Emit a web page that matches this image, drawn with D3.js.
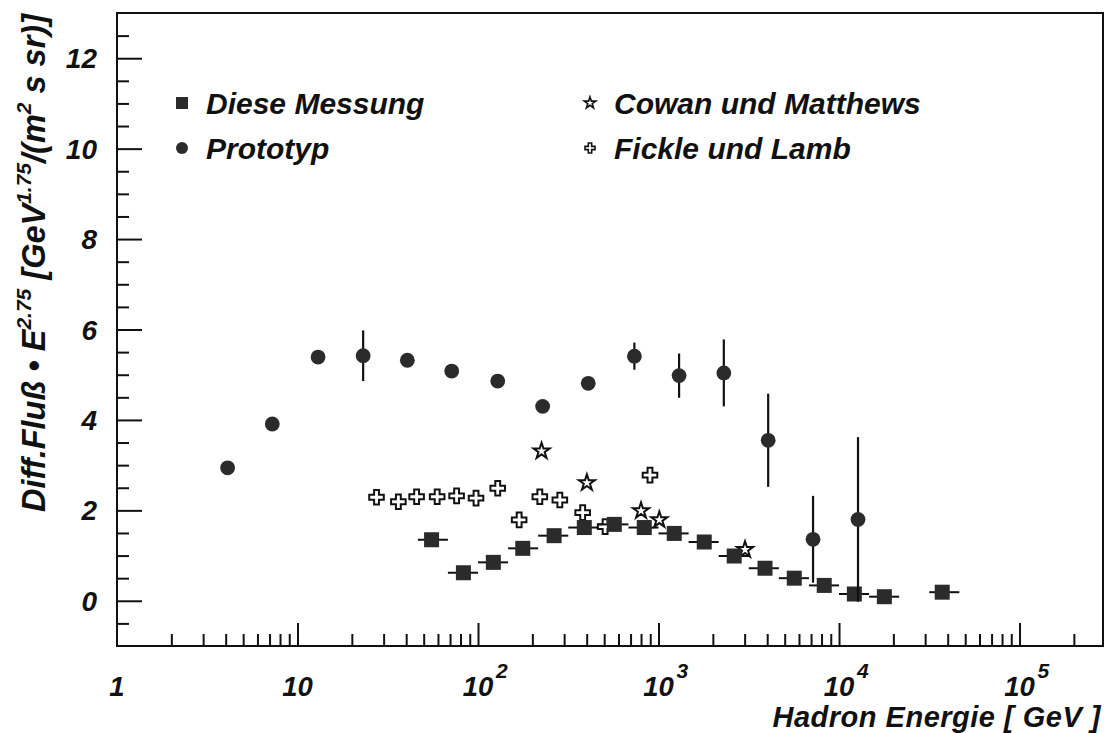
<!DOCTYPE html>
<html>
<head>
<meta charset="utf-8">
<script src="https://cdn.jsdelivr.net/npm/d3@7"></script>
<style>
  html, body { margin: 0; padding: 0; background: #fff; }
  svg text { font-family: "Liberation Sans", Arial, Helvetica, sans-serif; font-weight: bold; font-style: italic; fill: #111; }
</style>
</head>
<body>
<svg id="chart" width="1108" height="733"></svg>
<script>
// Diese Messung: bin centres, bin edges [GeV] and flux values
const measE  = [55.3, 83, 121.6, 177, 264, 388, 569, 834, 1222, 1792, 2626, 3890, 5650, 8280, 12160, 17830, 37300];
const measLo = [46.4, 68.1, 100, 146.8, 215.4, 316.2, 464.2, 681.3, 1000, 1468, 2154, 3162, 4642, 6813, 10000, 14678, 31623];
const measHi = [68.1, 100, 146.8, 215.4, 316.2, 464.2, 681.3, 1000, 1468, 2154, 3162, 4642, 6813, 10000, 14678, 21544, 46416];
const measV  = [1.35, 0.62, 0.85, 1.16, 1.44, 1.62, 1.69, 1.62, 1.49, 1.30, 0.99, 0.72, 0.50, 0.34, 0.15, 0.09, 0.19];

// Prototyp
const protoE   = [4.1, 7.25, 13.0, 23.1, 40.6, 71.5, 128.6, 228, 408, 735, 1300, 2300, 4050, 7180, 12740];
const protoV   = [2.94, 3.91, 5.39, 5.42, 5.32, 5.08, 4.86, 4.30, 4.81, 5.41, 4.98, 5.04, 3.55, 1.36, 1.80];
const protoErr = [0, 0, 0, 0.56, 0, 0, 0, 0, 0, 0.30, 0.49, 0.74, 1.03, 0.96, 1.82];

// Cowan und Matthews
const cowanE = [225, 401, 800, 1010, 3015];
const cowanV = [3.31, 2.61, 1.99, 1.79, 1.13];

// Fickle und Lamb
const fickleE = [27.4, 36.2, 45.7, 59.4, 76.1, 97.5, 128.6, 169, 220, 284, 380, 506, 897];
const fickleV = [2.29, 2.19, 2.30, 2.30, 2.32, 2.27, 2.49, 1.79, 2.30, 2.23, 1.95, 1.64, 2.78];

// Axis ticks and labels
const xMajor = [1, 10, 100, 1000, 10000, 100000];
const xLabelExp = [0, 1, 2, 3, 4, 5];
const yMajor = [0, 2, 4, 6, 8, 10, 12];
const yMinor = [-0.5, 0.5, 1, 1.5, 2.5, 3, 3.5, 4.5, 5, 5.5, 6.5, 7, 7.5, 8.5, 9, 9.5, 10.5, 11, 11.5, 12.5];

const legendLeft  = ["Diese Messung", "Prototyp"];
const legendRight = ["Cowan und Matthews", "Fickle und Lamb"];

const svg = d3.select("#chart");
const L = 117, R = 1103, T = 13, B = 646;

const x = d3.scaleLog().domain([1, 2.9e5]).range([L, R]);
const y = d3.scaleLinear().domain([-1, 13]).range([B, T]);

const ink = "#111";
const markFill = "#2b2b2b";

// minor ticks on the log axis: 2..9 in each decade inside the domain
const xMinor = [];
for (let d = 1; d <= 1e5; d *= 10) {
  for (let k = 2; k <= 9; k++) {
    const v = k * d;
    if (v < x.domain()[1]) xMinor.push(v);
  }
}

function styleAxis(g) {
  g.select(".domain").remove();
  g.selectAll(".tick line").attr("stroke", ink).attr("stroke-width", 2);
}

// x ticks pointing up from the bottom edge
svg.append("g").attr("transform", `translate(0,${B})`)
  .call(d3.axisTop(x).tickValues(xMajor.filter(v => v > 1)).tickSize(23).tickFormat(""))
  .call(styleAxis);
svg.append("g").attr("transform", `translate(0,${B})`)
  .call(d3.axisTop(x).tickValues(xMinor).tickSize(12).tickFormat(""))
  .call(styleAxis);

// y ticks pointing right from the left edge
svg.append("g").attr("transform", `translate(${L},0)`)
  .call(d3.axisRight(y).tickValues(yMajor).tickSize(25).tickFormat(""))
  .call(styleAxis);
svg.append("g").attr("transform", `translate(${L},0)`)
  .call(d3.axisRight(y).tickValues(yMinor).tickSize(12).tickFormat(""))
  .call(styleAxis);

// frame
svg.append("rect")
  .attr("x", L).attr("y", T).attr("width", R - L).attr("height", B - T)
  .attr("fill", "none").attr("stroke", ink).attr("stroke-width", 2);

// y tick labels
svg.append("g").selectAll("text").data(yMajor).join("text")
  .attr("x", 97).attr("y", d => y(d) + 10)
  .attr("text-anchor", "end")
  .style("font-size", "28px")
  .text(d => d);

// x tick labels (1, 10, 10^n)
const xl = svg.append("g").selectAll("g").data(xMajor).join("g")
  .attr("transform", (d, i) => `translate(${x(d)},696)`);
xl.each(function (d, i) {
  const g = d3.select(this);
  const e = xLabelExp[i];
  if (e <= 1) {
    g.append("text").attr("text-anchor", "middle").style("font-size", "27.5px").text(d);
  } else {
    g.append("text").attr("text-anchor", "middle").style("font-size", "27.5px").text("10");
    g.append("text").attr("x", 18).attr("y", -18).style("font-size", "21px").text(e);
  }
});

// axis titles
svg.append("text")
  .attr("x", 1101).attr("y", 726.5)
  .attr("text-anchor", "end")
  .style("font-size", "29px")
  .style("letter-spacing", "0.5px")
  .text("Hadron Energie [ GeV ]");

const yt = svg.append("text")
  .attr("transform", "translate(45,14) rotate(-90)")
  .attr("text-anchor", "end")
  .style("font-size", "32.5px");
yt.append("tspan").text("Diff.Fluß • E");
yt.append("tspan").attr("dy", -14).style("font-size", "21px").text("2.75");
yt.append("tspan").attr("dy", 14).text(" [GeV");
yt.append("tspan").attr("dy", -14).style("font-size", "21px").text("1.75");
yt.append("tspan").attr("dy", 14).text("/(m");
yt.append("tspan").attr("dy", -14).style("font-size", "21px").text("2");
yt.append("tspan").attr("dy", 14).text(" s sr)]");

// marker shapes
const starPath = d3.symbol().type(d3.symbolStar).size(80)();
const crossPath = d3.symbol().type(d3.symbolCross).size(118)();
const starSmall = d3.symbol().type(d3.symbolStar).size(42)();
const crossSmall = d3.symbol().type(d3.symbolCross).size(56)();

const plot = svg.append("g");

// Fickle und Lamb: open crosses
plot.append("g").selectAll("path").data(fickleE).join("path")
  .attr("d", crossPath)
  .attr("transform", (d, i) => `translate(${x(d)},${y(fickleV[i])})`)
  .attr("fill", "#fff").attr("stroke", ink).attr("stroke-width", 2);

// Cowan und Matthews: open stars
plot.append("g").selectAll("path").data(cowanE).join("path")
  .attr("d", starPath)
  .attr("transform", (d, i) => `translate(${x(d)},${y(cowanV[i])})`)
  .attr("fill", "#fff").attr("stroke", ink).attr("stroke-width", 2);

// Diese Messung: bin-width bars and squares
const meas = plot.append("g");
meas.selectAll("line").data(measE).join("line")
  .attr("x1", (d, i) => x(measLo[i])).attr("x2", (d, i) => x(measHi[i]))
  .attr("y1", (d, i) => y(measV[i])).attr("y2", (d, i) => y(measV[i]))
  .attr("stroke", ink).attr("stroke-width", 2);
meas.selectAll("rect").data(measE).join("rect")
  .attr("x", d => x(d) - 7.5).attr("y", (d, i) => y(measV[i]) - 7.5)
  .attr("width", 15).attr("height", 15)
  .attr("fill", markFill);

// Prototyp: error bars and filled circles
const proto = plot.append("g");
proto.selectAll("line").data(protoE).join("line")
  .attr("x1", d => x(d)).attr("x2", d => x(d))
  .attr("y1", (d, i) => y(protoV[i] + protoErr[i]))
  .attr("y2", (d, i) => y(protoV[i] - protoErr[i]))
  .attr("stroke", ink).attr("stroke-width", 2.2);
proto.selectAll("circle").data(protoE).join("circle")
  .attr("cx", d => x(d)).attr("cy", (d, i) => y(protoV[i]))
  .attr("r", 7.4)
  .attr("fill", markFill);

// legend
const lg = svg.append("g");
const rowY = [103, 148];
lg.append("rect").attr("x", 176).attr("y", rowY[0] - 6).attr("width", 12).attr("height", 12).attr("fill", markFill);
lg.append("circle").attr("cx", 182).attr("cy", rowY[1]).attr("r", 6).attr("fill", markFill);
lg.append("path").attr("d", starSmall).attr("transform", `translate(590,${rowY[0]})`)
  .attr("fill", "#fff").attr("stroke", ink).attr("stroke-width", 1.6);
lg.append("path").attr("d", crossSmall).attr("transform", `translate(590,${rowY[1]})`)
  .attr("fill", "#fff").attr("stroke", ink).attr("stroke-width", 1.6);
lg.selectAll("text.l").data(legendLeft).join("text").attr("class", "l")
  .attr("x", 206).attr("y", (d, i) => rowY[i] + 11)
  .style("font-size", "30px").text(d => d);
lg.selectAll("text.r").data(legendRight).join("text").attr("class", "r")
  .attr("x", 614).attr("y", (d, i) => rowY[i] + 11)
  .style("font-size", "30px").text(d => d);
</script>
</body>
</html>
